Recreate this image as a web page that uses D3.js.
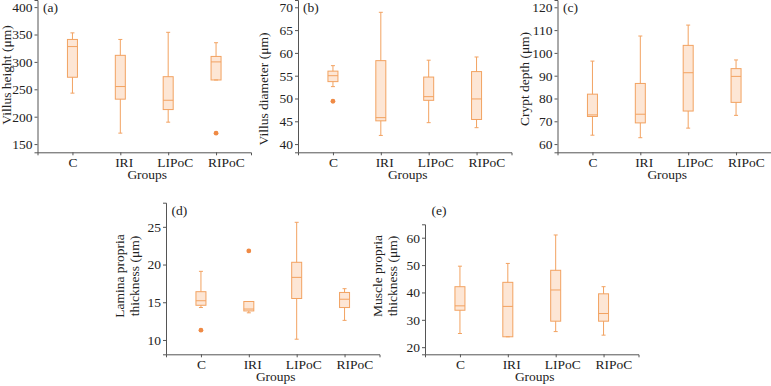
<!DOCTYPE html>
<html>
<head>
<meta charset="utf-8">
<script src="https://cdn.jsdelivr.net/npm/d3@7"></script>
<style>
  body { margin: 0; background: #fff; }
  svg { display: block; font-family: "Liberation Serif", "Times New Roman", serif; }
  .axis path, .axis line { stroke: #555; }
  .axis text { fill: #222; font-size: 13.5px; font-family: "Liberation Serif", serif; }
  .lbl { fill: #222; font-size: 13.5px; }
</style>
</head>
<body>
<div id="chart"></div>
<script>
/**
 * DATA - box stats per group: [min, q1, median, q3, max]
 * */
const groups = ["C", "IRI", "LIPoC", "RIPoC"];

const villusHeight = [[243, 272, 328, 341, 353], [170, 232, 255, 312, 341], [190, 213, 230, 273, 354], [267, 267, 300, 310, 335]];
const villusHeightOut = [[], [], [], [170]];

const villusDiameter = [[52.6, 53.7, 55.0, 56.0, 57.2], [41.9, 45.1, 45.8, 58.3, 68.9], [44.7, 49.6, 50.4, 54.7, 58.4], [43.6, 45.4, 49.9, 55.9, 59.1]];
const villusDiameterOut = [[49.4], [], [], []];

const cryptDepth = [[63.9, 72.1, 72.8, 81.9, 96.4], [62.8, 69.3, 73.1, 86.6, 107.4], [67.0, 74.5, 91.3, 103.3, 112.2], [72.6, 78.3, 89.7, 93.1, 96.9]];
const cryptDepthOut = [[], [], [], []];

const laminaPropria = [[14.3, 14.6, 15.2, 16.4, 19.1], [13.6, 13.85, 14.1, 15.1, 15.1], [10.1, 15.5, 18.3, 20.3, 25.6], [12.6, 14.3, 15.4, 16.3, 16.8]];
const laminaPropriaOut = [[11.3], [21.8], [], []];

const musclePropria = [[25.0, 33.5, 35.1, 42.1, 49.6], [23.8, 23.8, 34.9, 43.7, 50.6], [25.7, 29.5, 40.9, 48.1, 61.0], [24.4, 29.5, 32.3, 39.5, 42.1]];
const musclePropriaOut = [[], [], [], []];

const ticksA = [150, 200, 250, 300, 350, 400];
const ticksB = [40, 45, 50, 55, 60, 65, 70];
const ticksC = [60, 70, 80, 90, 100, 110, 120];
const ticksD = [10, 15, 20, 25];
const ticksE = [20, 30, 40, 50, 60];

/**
 * LAYOUT
 * */
const width = 771, height = 386;
const axisW = 213.5;
const stroke = "#f2a261", fill = "#fde6d5", dotColor = "#ef8a45";

const panels = [
  { tag: "(a)", stats: villusHeight, out: villusHeightOut, ticks: ticksA, domain: [135, 413],
    x0: 37.5, top: 0, bottom: 152.3, ylabel: ["Villus height (μm)"], lx: 10.5, ly: 75, tx: 43, ty: 12 },
  { tag: "(b)", stats: villusDiameter, out: villusDiameterOut, ticks: ticksB, domain: [38.2, 71.6],
    x0: 298, top: 0, bottom: 152.3, ylabel: ["Villus diameter (μm)"], lx: 268, ly: 89, tx: 303, ty: 12 },
  { tag: "(c)", stats: cryptDepth, out: cryptDepthOut, ticks: ticksC, domain: [56.4, 123.2],
    x0: 557.5, top: 0, bottom: 152.3, ylabel: ["Crypt depth (μm)"], lx: 529, ly: 79, tx: 563, ty: 12 },
  { tag: "(d)", stats: laminaPropria, out: laminaPropriaOut, ticks: ticksD, domain: [8.1, 28.2],
    x0: 166, top: 202.7, bottom: 354.3, ylabel: ["Lamina propria", "thickness (μm)"], lx: 124, ly: 276, tx: 171.5, ty: 214.5 },
  { tag: "(e)", stats: musclePropria, out: musclePropriaOut, ticks: ticksE, domain: [17.4, 64.9],
    x0: 425, top: 224.3, bottom: 354.3, ylabel: ["Muscle propria", "thickness (μm)"], lx: 382, ly: 276, tx: 431.5, ty: 214.5 }
];

const svg = d3.select("#chart")
  .append("svg")
  .attr("width", width)
  .attr("height", height);

panels.forEach(p => {
  const g = svg.append("g");

  const xScale = d3.scalePoint()
    .domain(groups)
    .range([p.x0, p.x0 + axisW])
    .padding(0.73);

  const yScale = d3.scaleLinear()
    .domain(p.domain)
    .range([p.bottom, p.top]);

  // x axis - tick labels drift a bit to the right like in the original figure
  g.append("g")
    .attr("class", "axis x-axis")
    .attr("transform", `translate(0,${p.bottom})`)
    .call(d3.axisBottom(xScale).tickSize(3).tickSizeOuter(3))
    .selectAll("text")
    .attr("x", (d, i) => i * 3.3)
    .attr("y", 14.6)
    .attr("dy", null);

  // y axis
  g.append("g")
    .attr("class", "axis y-axis")
    .attr("transform", `translate(${p.x0},0)`)
    .call(d3.axisLeft(yScale).tickValues(p.ticks).tickSize(3).tickSizeOuter(3).tickPadding(2));

  // axis titles
  g.append("text")
    .attr("class", "lbl")
    .attr("x", p.x0 + axisW / 2 + 3)
    .attr("y", p.bottom + 27)
    .attr("text-anchor", "middle")
    .text("Groups");

  p.ylabel.forEach((t, i) => {
    g.append("text")
      .attr("class", "lbl")
      .attr("transform", `translate(${p.lx + i * 15},${p.ly}) rotate(-90)`)
      .attr("text-anchor", "middle")
      .text(t);
  });

  g.append("text")
    .attr("class", "lbl")
    .attr("x", p.tx)
    .attr("y", p.ty)
    .text(p.tag);

  // boxes
  const boxW = 10, capW = 4;
  const box = g.selectAll("g.box")
    .data(p.stats)
    .join("g")
    .attr("class", "box")
    .attr("transform", (d, i) => `translate(${xScale(groups[i])},0)`);

  box.append("line")
    .attr("y1", d => yScale(d[0]))
    .attr("y2", d => yScale(d[4]))
    .attr("stroke", stroke);

  box.append("rect")
    .attr("x", -boxW / 2)
    .attr("width", boxW)
    .attr("y", d => yScale(d[3]))
    .attr("height", d => yScale(d[1]) - yScale(d[3]))
    .attr("fill", fill)
    .attr("stroke", stroke);

  box.append("line")
    .attr("x1", -boxW / 2)
    .attr("x2", boxW / 2)
    .attr("y1", d => yScale(d[2]))
    .attr("y2", d => yScale(d[2]))
    .attr("stroke", stroke);

  // whisker caps
  [0, 4].forEach(k => {
    box.append("line")
      .attr("x1", -capW / 2)
      .attr("x2", capW / 2)
      .attr("y1", d => yScale(d[k]))
      .attr("y2", d => yScale(d[k]))
      .attr("stroke", stroke);
  });

  // outliers
  box.each(function(d, i) {
    d3.select(this)
      .selectAll("circle")
      .data(p.out[i])
      .join("circle")
      .attr("r", 2.4)
      .attr("cy", v => yScale(v))
      .attr("fill", dotColor);
  });
});
</script>
</body>
</html>
